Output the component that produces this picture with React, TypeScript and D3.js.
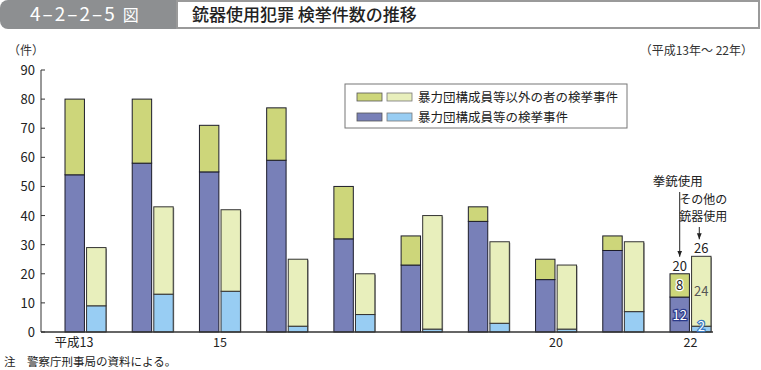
import React, { useRef, useEffect } from 'react';
import * as d3 from 'd3';

const years = ['13', '14', '15', '16', '17', '18', '19', '20', '21', '22'];
const yearLabels = ['平成13', '', '15', '', '', '', '', '20', '', '22'];
// 拳銃使用
const gunYakuza = [54, 58, 55, 59, 32, 23, 38, 18, 28, 12];
const gunOther = [26, 22, 16, 18, 18, 10, 5, 7, 5, 8];
// その他の銃器使用
const otherYakuza = [9, 13, 14, 2, 6, 1, 3, 1, 7, 2];
const otherOther = [20, 30, 28, 23, 14, 39, 28, 22, 24, 24];
const yTicks = [0, 10, 20, 30, 40, 50, 60, 70, 80, 90];

const FONT = '"Noto Sans CJK JP", "Noto Sans", sans-serif';

const App: React.FC = () => {
  const chartRef = useRef<SVGSVGElement>(null);

  useEffect(() => {
    if (!chartRef.current) return;
    const svg = d3.select(chartRef.current);
    svg.selectAll('*').remove();
    svg.style('font-family', FONT);

    // header
    svg.append('rect').attr('x', 0).attr('y', 0).attr('width', 190).attr('height', 29)
      .attr('rx', 8).attr('fill', '#8d8f91');
    svg.append('rect').attr('x', 177).attr('y', 1).attr('width', 582).attr('height', 27)
      .attr('fill', '#fff').attr('stroke', '#9a9a9a').attr('stroke-width', 2);
    const hd = svg.append('text').attr('x', 30).attr('y', 21).attr('fill', '#fff')
      .style('font-size', '19px').style('letter-spacing', '2px');
    hd.append('tspan').text('4–2–2–5');
    hd.append('tspan').attr('dx', 6).style('font-size', '16px').text('図');
    svg.append('text').attr('x', 192).attr('y', 21).attr('fill', '#222')
      .style('font-size', '17px').style('font-weight', 500).text('銃器使用犯罪 検挙件数の推移');

    svg.append('text').attr('x', 8).attr('y', 55).style('font-size', '12px').attr('fill', '#333').text('（件）');
    svg.append('text').attr('x', 753).attr('y', 55).attr('text-anchor', 'end')
      .style('font-size', '12px').attr('fill', '#333').text('（平成13年～ 22年）');

    const y = d3.scaleLinear().domain([0, 90]).range([332, 70]);
    const x = d3.scaleBand<string>().domain(years).range([65, 711]).paddingInner(0.39).paddingOuter(0);
    const sub = d3.scaleBand<string>().domain(['gun', 'other']).range([0, x.bandwidth()]).paddingInner(0.1);

    const colors = { gunY: '#7880b8', gunO: '#cdd67a', othY: '#98cdf3', othO: '#e8efbc' };

    const g = svg.append('g');
    years.forEach((yr, i) => {
      const x0 = x(yr) || 0;
      const bw = sub.bandwidth();
      const gx = x0 + (sub('gun') || 0);
      const ox = x0 + (sub('other') || 0);
      // shadows for light bars
      g.append('rect').attr('x', ox + 1).attr('y', y(otherYakuza[i] + otherOther[i]) + 1)
        .attr('width', bw).attr('height', y(0) - y(otherYakuza[i] + otherOther[i]) - 1).attr('fill', '#999');
      g.append('rect').attr('x', gx).attr('y', y(gunYakuza[i])).attr('width', bw)
        .attr('height', y(0) - y(gunYakuza[i])).attr('fill', colors.gunY).attr('stroke', '#1c1c2a').attr('stroke-width', 1);
      g.append('rect').attr('x', gx).attr('y', y(gunYakuza[i] + gunOther[i])).attr('width', bw)
        .attr('height', y(gunYakuza[i]) - y(gunYakuza[i] + gunOther[i])).attr('fill', colors.gunO).attr('stroke', '#1c1c2a').attr('stroke-width', 1);
      g.append('rect').attr('x', ox).attr('y', y(otherYakuza[i])).attr('width', bw)
        .attr('height', y(0) - y(otherYakuza[i])).attr('fill', colors.othY).attr('stroke', '#333').attr('stroke-width', 1);
      g.append('rect').attr('x', ox).attr('y', y(otherYakuza[i] + otherOther[i])).attr('width', bw)
        .attr('height', y(otherYakuza[i]) - y(otherYakuza[i] + otherOther[i])).attr('fill', colors.othO).attr('stroke', '#333').attr('stroke-width', 1);
    });

    // axes
    svg.append('line').attr('x1', 41).attr('x2', 41).attr('y1', y(90)).attr('y2', y(0)).attr('stroke', '#333');
    svg.append('line').attr('x1', 41).attr('x2', 713).attr('y1', y(0)).attr('y2', y(0)).attr('stroke', '#333').attr('stroke-width', 1.5);
    yTicks.forEach(t => {
      svg.append('line').attr('x1', 41).attr('x2', 45).attr('y1', y(t)).attr('y2', y(t)).attr('stroke', '#333');
      svg.append('text').attr('x', 35).attr('y', y(t) + 5).attr('text-anchor', 'end')
        .style('font-size', '13px').attr('fill', '#222').text(t);
    });
    years.forEach((yr, i) => {
      if (!yearLabels[i]) return;
      const cx = (x(yr) || 0) + x.bandwidth() / 2;
      const lbl = yearLabels[i];
      if (lbl.startsWith('平成')) {
        // keep the numeral centred on the pair, era name to its left
        svg.append('text').attr('x', cx + 8).attr('y', 347).attr('text-anchor', 'end')
          .style('font-size', '12.5px').attr('fill', '#222').text(lbl);
      } else {
        svg.append('text').attr('x', cx).attr('y', 347).attr('text-anchor', 'middle')
          .style('font-size', '12.5px').attr('fill', '#222').text(lbl);
      }
    });

    // legend
    svg.append('rect').attr('x', 345).attr('y', 84).attr('width', 282).attr('height', 44)
      .attr('fill', '#fff').attr('stroke', '#777');
    const legendRows = [
      { c1: colors.gunO, c2: colors.othO, label: '暴力団構成員等以外の者の検挙事件', yy: 97 },
      { c1: colors.gunY, c2: colors.othY, label: '暴力団構成員等の検挙事件', yy: 117 },
    ];
    legendRows.forEach(r => {
      svg.append('rect').attr('x', 357).attr('y', r.yy - 4).attr('width', 25).attr('height', 8)
        .attr('fill', r.c1).attr('stroke', '#555').attr('stroke-width', 0.8);
      svg.append('rect').attr('x', 387).attr('y', r.yy - 4).attr('width', 25).attr('height', 8)
        .attr('fill', r.c2).attr('stroke', '#777').attr('stroke-width', 0.8);
      svg.append('text').attr('x', 418).attr('y', r.yy + 4.5).style('font-size', '12.5px')
        .attr('fill', '#222').text(r.label);
    });

    // annotations for the last year
    const last = years.length - 1;
    const lx = x(years[last]) || 0;
    const gcx = lx + (sub('gun') || 0) + sub.bandwidth() / 2;
    const ocx = lx + (sub('other') || 0) + sub.bandwidth() / 2;
    const gunTotal = gunYakuza[last] + gunOther[last];
    const othTotal = otherYakuza[last] + otherOther[last];

    const defs = svg.append('defs');
    defs.append('marker').attr('id', 'arr').attr('viewBox', '0 0 10 10').attr('refX', 10).attr('refY', 5)
      .attr('markerWidth', 6).attr('markerHeight', 6).attr('orient', 'auto')
      .append('path').attr('d', 'M0,1 L10,5 L0,9 z').attr('fill', '#222');

    svg.append('text').attr('x', gcx - 2).attr('y', 186).attr('text-anchor', 'middle')
      .style('font-size', '12.5px').attr('fill', '#222').text('拳銃使用');
    svg.append('line').attr('x1', gcx).attr('x2', gcx).attr('y1', 192).attr('y2', y(gunTotal) - 17)
      .attr('stroke', '#222').attr('marker-end', 'url(#arr)');
    svg.append('text').attr('x', ocx + 2).attr('y', 204).attr('text-anchor', 'middle')
      .style('font-size', '12px').attr('fill', '#222').text('その他の');
    svg.append('text').attr('x', ocx + 2).attr('y', 221).attr('text-anchor', 'middle')
      .style('font-size', '12px').attr('fill', '#222').text('銃器使用');
    svg.append('line').attr('x1', ocx - 2).attr('x2', ocx - 2).attr('y1', 227).attr('y2', y(othTotal) - 17)
      .attr('stroke', '#222').attr('marker-end', 'url(#arr)');

    svg.append('text').attr('x', gcx).attr('y', y(gunTotal) - 3).attr('text-anchor', 'middle')
      .style('font-size', '13px').attr('fill', '#222').text(gunTotal);
    svg.append('text').attr('x', ocx).attr('y', y(othTotal) - 3).attr('text-anchor', 'middle')
      .style('font-size', '13px').attr('fill', '#222').text(othTotal);

    const inLabel = (cx: number, lo: number, hi: number, val: number, fill: string, stroke: string) => {
      svg.append('text').attr('x', cx).attr('y', (y(lo) + y(hi)) / 2 + 5).attr('text-anchor', 'middle')
        .style('font-size', '13px').attr('fill', fill)
        .attr('stroke', stroke).attr('stroke-width', stroke === 'none' ? 0 : 2.5)
        .attr('paint-order', 'stroke').text(val);
    };
    inLabel(gcx, gunYakuza[last], gunTotal, gunOther[last], '#222', '#fff');
    inLabel(gcx, 0, gunYakuza[last], gunYakuza[last], '#fff', '#2b3a8a');
    inLabel(ocx, otherYakuza[last], othTotal, otherOther[last], '#555', 'none');
    svg.append('text').attr('x', ocx).attr('y', y(0) - 1).attr('text-anchor', 'middle')
      .style('font-size', '13px').attr('fill', '#fff').attr('stroke', '#3a7ac0').attr('stroke-width', 2.5)
      .attr('paint-order', 'stroke').text(otherYakuza[last]);

    svg.append('text').attr('x', 4).attr('y', 366).style('font-size', '11.5px').attr('fill', '#222')
      .text('注　警察庁刑事局の資料による。');
  }, []);

  return (
    <div style={{ position: 'absolute', left: 0, top: 0 }}>
      <svg ref={chartRef} width={761} height={370} style={{ display: 'block', background: '#fff' }} />
    </div>
  );
};

export default App;
